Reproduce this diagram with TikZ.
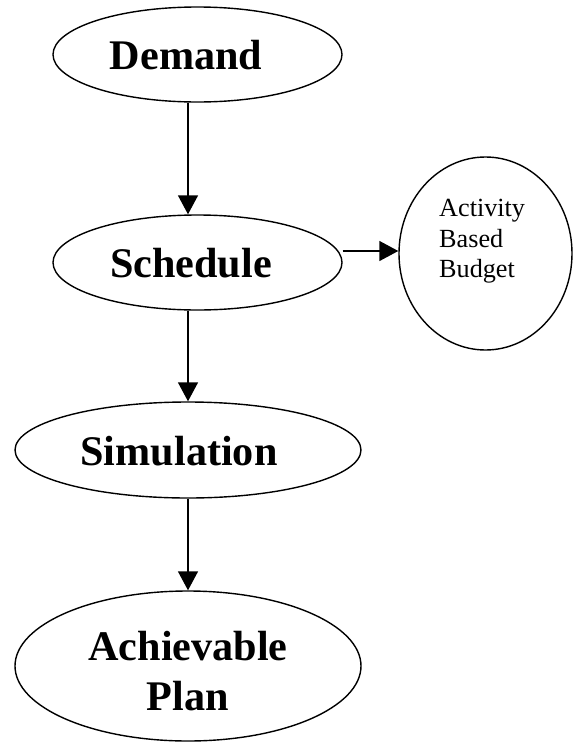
\documentclass[tikz,border=0pt]{standalone}
\usepackage{fontspec}
\setmainfont{Liberation Serif}
\usetikzlibrary{shapes.geometric,arrows.meta}
\begin{document}
\begin{tikzpicture}[x=1pt,y=-1pt,
  oval/.style={ellipse,draw,line width=1.4pt,inner sep=0pt},
  bigtext/.style={font=\fontsize{42.2}{50}\selectfont\bfseries,inner sep=0pt,align=center},
  smalltext/.style={font=\fontsize{26.2}{30.5}\selectfont,inner sep=0pt,align=left,anchor=north west},
  arr/.style={line width=1.4pt,-{Triangle[length=19pt,width=20pt]}}]
\useasboundingbox (0,0) rectangle (574,742);
\node[oval,minimum width=289,minimum height=95] (demand) at (197.5,54.5) {};
\node[oval,minimum width=289,minimum height=95] (schedule) at (197.5,262.5) {};
\node[oval,minimum width=173,minimum height=193] (budget) at (485.5,253.5) {};
\node[oval,minimum width=346,minimum height=96] (simulation) at (188,450) {};
\node[oval,minimum width=346,minimum height=150] (plan) at (188,666) {};
\node[bigtext,anchor=base] (demandtext) at (186,69) {Demand};
\node[bigtext,anchor=base] (scheduletext) at (191,277) {Schedule};
\node[bigtext,anchor=base] (simulationtext) at (179,465) {Simulation};
\node[bigtext,anchor=center] (plantext) at (188,671) {Achievable\\Plan};
\node[smalltext] (budgettext) at (439,199.1) {Activity\\Based\\Budget};
\draw[arr] ([xshift=-9.5pt]demand.south) -- ([xshift=-9.5pt]schedule.north);
\draw[arr] ([xshift=-9.5pt]schedule.south) -- (simulation.north);
\draw[arr] (simulation.south) -- (plan.north);
\draw[arr] ([yshift=11.5pt]schedule.east) -- ([yshift=2.5pt]budget.west);
\end{tikzpicture}
\end{document}
